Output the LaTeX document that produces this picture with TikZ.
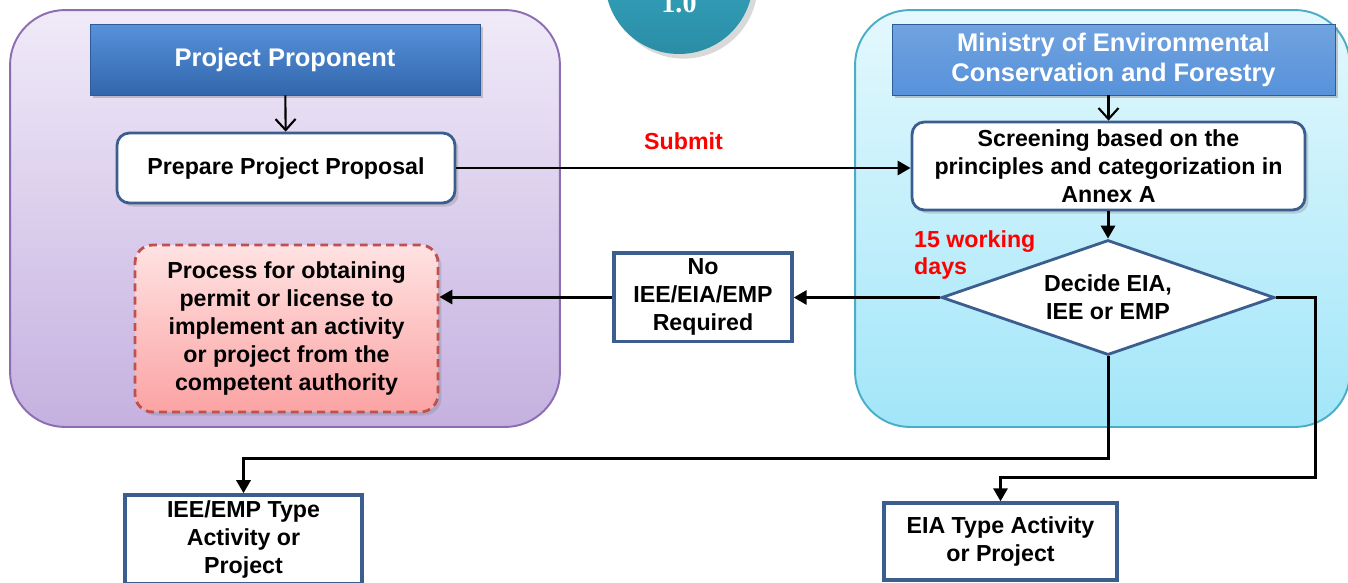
\documentclass[tikz,border=0pt]{standalone}
\usepackage{fontspec}
\setmainfont{Liberation Sans}
\newfontfamily\numfont{Liberation Serif}
\usetikzlibrary{positioning, shapes, arrows.meta, shadows}

\definecolor{purpletop}{HTML}{F0EAF8}
\definecolor{purplebottom}{HTML}{C5B1E0}
\definecolor{purpleline}{HTML}{8C6DB2}
\definecolor{cyantop}{HTML}{E4F8FD}
\definecolor{cyanbottom}{HTML}{A2E6F9}
\definecolor{cyanline}{HTML}{4AADC8}
\definecolor{headtop}{HTML}{5792DA}
\definecolor{headbottom}{HTML}{3266AC}
\definecolor{headline}{HTML}{2E5C9A}
\definecolor{boxline}{HTML}{3C5E8E}
\definecolor{pinktop}{HTML}{FFE2E2}
\definecolor{pinkbottom}{HTML}{FBA3A3}
\definecolor{pinkline}{HTML}{C0504D}
\definecolor{tealtop}{HTML}{3DB0CA}
\definecolor{tealbottom}{HTML}{2A8DA6}
\newcommand\bodyfont{\bfseries\fontsize{13.2}{15.9}\selectfont}

\begin{document}
\begin{tikzpicture}[x=0.02cm, y=-0.02cm]
\tikzset{
  panel/.style={rectangle, rounded corners=1.1cm, line width=1.1pt, minimum height=8.34cm},
  header/.style={rectangle, draw=headline, line width=0.5pt, text=white, align=center, font=\bfseries\fontsize{14.5}{17}\selectfont, minimum height=1.42cm, drop shadow={shadow xshift=1.5pt, shadow yshift=-1.5pt, opacity=0.4}},
  block/.style={rectangle, rounded corners=7pt, draw=boxline, line width=1.6pt, fill=white, align=center, font=\bodyfont, drop shadow={shadow xshift=2pt, shadow yshift=-2pt, opacity=0.3}},
  result/.style={rectangle, draw=boxline, line width=1.9pt, fill=white, align=center, font=\bodyfont},
  decision/.style={diamond, aspect=2.9, draw=boxline, line width=1.6pt, fill=white, align=center, font=\bodyfont, inner sep=0pt, minimum width=6.66cm, minimum height=2.3cm},
  flow/.style={line width=1.7pt, -{Triangle[length=2.6mm, width=2.8mm]}},
  feed/.style={line width=1.2pt, -{Straight Barb[length=2.2mm, width=4mm]}},
  note/.style={text=red, font=\bodyfont, align=left}
}
\useasboundingbox (0,0) rectangle (1348,582);

  % background panels
  \node [panel, draw=purpleline, top color=purpletop, bottom color=purplebottom, minimum width=11cm] (proponentpanel) at (285,218.5) {};
  \node [panel, draw=cyanline, top color=cyantop, bottom color=cyanbottom, minimum width=9.9cm] (ministrypanel) at (1102.5,218.5) {};
  \node [circle, top color=tealtop, bottom color=tealbottom, minimum size=2.96cm, drop shadow={opacity=0.3}, label={[text=white, font=\numfont\bfseries\fontsize{16}{16}\selectfont, yshift=-0.46cm]center:1.0}] (stage) at (679,-20) {};

  \node [header, top color=headtop, bottom color=headbottom, minimum width=7.8cm] (proponent) at (285,59.5) {Project Proponent};
  \node [header, top color=headtop!85!white, bottom color=headtop, minimum width=8.86cm] (ministry) at (1113.5,59.5) {Ministry of Environmental\\Conservation and Forestry};

  \node [block, minimum width=6.76cm, minimum height=1.4cm] (proposal) at (286,168) {Prepare Project Proposal};
  \node [block, minimum width=7.86cm, minimum height=1.76cm] (screening) at (1108.5,166) {Screening based on the\\principles and categorization in\\Annex A};
  \node [decision] (decide) at (1108,297.5) {Decide EIA,\\IEE or EMP};
  \node [note, anchor=north west] (days) at (908,224) {15 working\\days};
  \node [result, minimum width=3.56cm, minimum height=1.6cm] (noreq) at (703,297) {No\\IEE/EIA/EMP\\Required};
  \node [block, draw=pinkline, dash pattern=on 4.5pt off 3pt, top color=pinktop, bottom color=pinkbottom, rounded corners=10pt, minimum width=6.06cm, minimum height=3.34cm] (permit) at (286.5,328.5) {Process for obtaining\\permit or license to\\implement an activity\\or project from the\\competent authority};
  \node [result, minimum width=4.74cm, minimum height=1.66cm] (ieetype) at (243.5,539.5) {IEE/EMP Type\\Activity or\\Project};
  \node [result, minimum width=4.66cm, minimum height=1.54cm] (eiatype) at (1000.5,541.5) {EIA Type Activity\\or Project};

  \coordinate (splitleft) at (0,458);
  \coordinate (splitright) at (1315,477);

  \draw [feed] (proponent) -- (proposal);
  \draw [feed] (ministry.south -| screening.north) -- (screening.north);
  \draw [flow] (proposal.east) -- node [note, above=0.22cm] (submit) {Submit} (proposal.east -| screening.west);
  \draw [flow] (screening.south -| decide.north) -- (decide.north);
  \draw [flow] (decide.west) -- (decide.west -| noreq.east);
  \draw [flow] (noreq.west) -- (noreq.west -| permit.east);
  \draw [flow] (decide.south) -- (decide.south |- splitleft) -| (ieetype.north);
  \draw [flow] (decide.east) -| (splitright) -| (eiatype.north);

\end{tikzpicture}
\end{document}
